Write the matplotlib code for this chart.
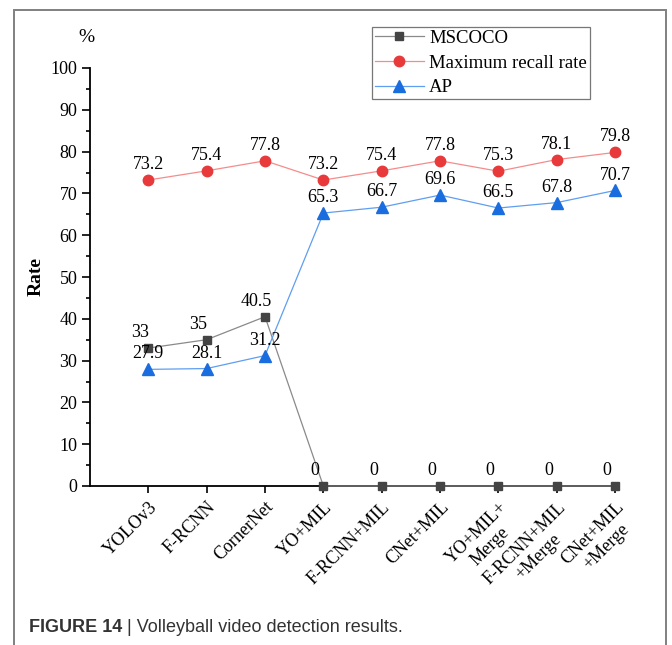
import matplotlib
matplotlib.use("Agg")
import matplotlib.pyplot as plt
from matplotlib.patches import Rectangle
from matplotlib.ticker import MultipleLocator

# Data
categories = ["YOLOv3", "F-RCNN", "CornerNet", "YO+MIL", "F-RCNN+MIL",
              "CNet+MIL", "YO+MIL+\nMerge", "F-RCNN+MIL\n+Merge", "CNet+MIL\n+Merge"]
mscoco = [33, 35, 40.5, 0, 0, 0, 0, 0, 0]
recall = [73.2, 75.4, 77.8, 73.2, 75.4, 77.8, 75.3, 78.1, 79.8]
ap = [27.9, 28.1, 31.2, 65.3, 66.7, 69.6, 66.5, 67.8, 70.7]

serif = "Liberation Serif"
plt.rcParams['font.family'] = serif

W, H = 672, 645
fig = plt.figure(figsize=(W / 100, H / 100), dpi=100)
ax = fig.add_axes([90 / W, 1 - 486 / H, 528 / W, 418 / H])

x = list(range(len(categories)))
ax.plot(x, mscoco, color='#8a8a8a', lw=0.9, marker='s', ms=6,
        mfc='#444444', mec='#444444', clip_on=False, zorder=3, label='MSCOCO')
ax.plot(x, recall, color='#f58c8c', lw=0.9, marker='o', ms=7.5,
        mfc='#e8393b', mec='#e8393b', clip_on=False, zorder=3,
        label='Maximum recall rate')
ax.plot(x, ap, color='#5f9ef0', lw=0.9, marker='^', ms=8,
        mfc='#1a6ddf', mec='#1a6ddf', clip_on=False, zorder=3, label='AP')

# value labels
for i, v in enumerate(recall):
    ax.annotate('%g' % v, (i, v), xytext=(0, 5), textcoords='offset points',
                ha='center', va='bottom', fontsize=13)
for i, v in enumerate(ap):
    ax.annotate('%g' % v, (i, v), xytext=(0, 5), textcoords='offset points',
                ha='center', va='bottom', fontsize=13)
for i, v in enumerate(mscoco):
    ax.annotate('%g' % v, (i, v), xytext=(-6, 5), textcoords='offset points',
                ha='center', va='bottom', fontsize=13)

ax.set_xlim(-1, 8.05)
ax.set_ylim(0, 100)
ax.set_xticks(x)
ax.set_xticklabels(categories, rotation=45, ha='right', rotation_mode='anchor',
                   multialignment='center', fontsize=13)
ax.yaxis.set_major_locator(MultipleLocator(10))
ax.yaxis.set_minor_locator(MultipleLocator(5))
ax.tick_params(axis='y', which='major', direction='out', length=6, width=1.2,
               labelsize=13, pad=3)
ax.tick_params(axis='y', which='minor', direction='out', length=3, width=1.2)
ax.tick_params(axis='x', which='major', direction='out', length=5, width=1.2, pad=4)
for s in ['top', 'right']:
    ax.spines[s].set_visible(False)
for s in ['left', 'bottom']:
    ax.spines[s].set_linewidth(1.3)
ax.spines['bottom'].set_bounds(-1, 8.05)

ax.set_ylabel('Rate', fontsize=14, fontweight='bold', labelpad=4)
fig.text(86 / W, 1 - 37 / H, '%', fontsize=14, ha='center', va='center')

leg = ax.legend(loc='upper left', bbox_to_anchor=(372 / W, 1 - 27 / H),
                bbox_transform=fig.transFigure, fontsize=13.5, frameon=True,
                fancybox=False, edgecolor='#777777', framealpha=1,
                borderpad=0.15, handlelength=2.6, handletextpad=0.3,
                labelspacing=0.4, borderaxespad=0)
leg.get_frame().set_linewidth(0.9)

# outer frame of the figure panel
fig.patches.append(Rectangle((14 / W, -0.1), 652 / W, 1.1 - 10 / H,
                             transform=fig.transFigure, fill=False,
                             edgecolor='#808080', lw=1.4))

# caption: bold part, then the rest placed after it
cap1 = fig.text(29 / W, 1 - 627 / H, 'FIGURE 14', fontsize=13,
                family='Liberation Sans', fontweight='bold', color='#333333',
                va='center')
renderer = fig.canvas.get_renderer()
x_end = cap1.get_window_extent(renderer).x1
fig.text((x_end + 5) / W, 1 - 627 / H, '| Volleyball video detection results.',
         fontsize=13, family='Liberation Sans', color='#333333', va='center')

fig.savefig('out.png', dpi=100)
